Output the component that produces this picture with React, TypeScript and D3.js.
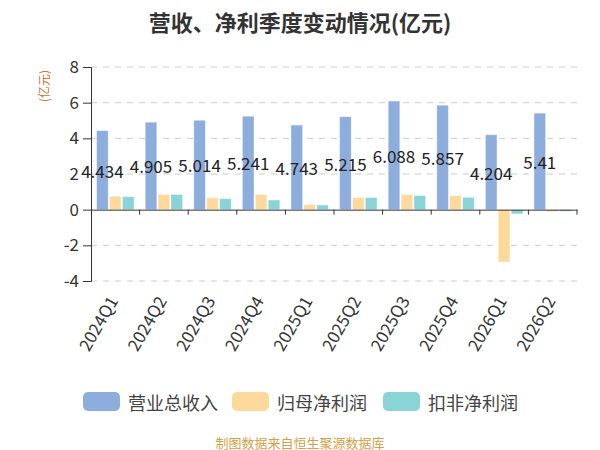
import { useRef, useEffect } from 'react';
import * as d3 from 'd3';

const quarters = ['2024Q1', '2024Q2', '2024Q3', '2024Q4', '2025Q1', '2025Q2', '2025Q3', '2025Q4', '2026Q1', '2026Q2'];
const revenue = [4.434, 4.905, 5.014, 5.241, 4.743, 5.215, 6.088, 5.857, 4.204, 5.41];
const netProfit = [0.75, 0.85, 0.66, 0.85, 0.28, 0.68, 0.85, 0.79, -2.93, -0.11];
const deductedProfit = [0.73, 0.85, 0.62, 0.54, 0.26, 0.68, 0.79, 0.69, -0.24, -0.09];
const seriesNames = ['营业总收入', '归母净利润', '扣非净利润'];
const yTicks = [-4, -2, 0, 2, 4, 6, 8];

const COLORS = ['#8daddc', '#fdd99b', '#88d4d7'];
const FONT = '"Noto Sans CJK SC", "Noto Sans", sans-serif';

export default function App() {
  const svgRef = useRef<SVGSVGElement>(null);

  useEffect(() => {
    if (!svgRef.current) return;
    const svg = d3.select(svgRef.current);
    svg.selectAll('*').remove();

    const left = 91;
    const right = 577;
    const top = 67;
    const bottom = 281;

    const x = d3.scaleBand<string>().domain(quarters).range([left, right]);
    const inner = d3.scaleBand<number>().domain([0, 1, 2]).range([-20, 20]).padding(0.1);
    const y = d3.scaleLinear().domain([-4, 8]).range([bottom, top]);

    // Title
    svg.append('text')
      .attr('x', 300)
      .attr('y', 21)
      .attr('text-anchor', 'middle')
      .attr('dominant-baseline', 'central')
      .attr('font-size', '22px')
      .attr('font-weight', '700')
      .attr('fill', '#333')
      .text('营收、净利季度变动情况(亿元)');

    // Y-axis unit
    svg.append('text')
      .attr('transform', `translate(43,86) rotate(-90)`)
      .attr('text-anchor', 'middle')
      .attr('dominant-baseline', 'central')
      .attr('font-size', '12px')
      .attr('fill', '#c8743a')
      .text('(亿元)');

    // Grid lines
    svg.append('g')
      .selectAll('line')
      .data(yTicks.filter((t) => t !== 0))
      .join('line')
      .attr('x1', left)
      .attr('x2', right)
      .attr('y1', (d) => y(d))
      .attr('y2', (d) => y(d))
      .attr('stroke', '#ccc')
      .attr('stroke-dasharray', '6,6');

    // Bars
    const all = [revenue, netProfit, deductedProfit];
    all.forEach((values, si) => {
      svg.append('g')
        .selectAll('rect')
        .data(values)
        .join('rect')
        .attr('x', (_, i) => x(quarters[i])! + x.bandwidth() / 2 + inner(si)!)
        .attr('width', inner.bandwidth())
        .attr('y', (d) => y(Math.max(0, d)))
        .attr('height', (d) => Math.abs(y(d) - y(0)))
        .attr('fill', COLORS[si])
        .attr('stroke', '#fff')
        .attr('stroke-opacity', 0.4)
        .attr('stroke-width', 1);
    });

    // Y axis
    const yAxis = svg.append('g')
      .attr('transform', `translate(${left},0)`)
      .call(d3.axisLeft(y).tickValues(yTicks).tickSize(8).tickPadding(4).tickFormat((d) => String(d)));
    yAxis.select('.domain').attr('stroke', '#333');
    yAxis.selectAll('.tick line').attr('stroke', '#333');
    yAxis.selectAll('.tick text')
      .attr('font-size', '17px')
      .attr('font-family', FONT)
      .attr('fill', '#333');

    // X axis at zero
    const xAxis = svg.append('g')
      .attr('transform', `translate(0,${y(0)})`)
      .call(d3.axisBottom(x).tickValues([]).tickSizeOuter(0));
    xAxis.select('.domain').attr('stroke', '#333');
    svg.append('g')
      .selectAll('line')
      .data(quarters)
      .join('line')
      .attr('x1', (d) => x(d)! + x.bandwidth())
      .attr('x2', (d) => x(d)! + x.bandwidth())
      .attr('y1', y(0))
      .attr('y2', y(0) + 5)
      .attr('stroke', '#333');

    // Category labels along bottom
    svg.append('g')
      .selectAll('text')
      .data(quarters)
      .join('text')
      .attr('transform', (d) => `translate(${x(d)! + x.bandwidth() / 2 - 3},${bottom + 16}) rotate(-60)`)
      .attr('text-anchor', 'end')
      .attr('dominant-baseline', 'central')
      .attr('font-size', '17px')
      .attr('font-family', FONT)
      .attr('fill', '#333')
      .text((d) => d);

    // Revenue value labels in bar middle
    svg.append('g')
      .selectAll('text')
      .data(revenue)
      .join('text')
      .attr('x', (_, i) => x(quarters[i])! + x.bandwidth() / 2 + inner(0)! + inner.bandwidth() / 2)
      .attr('y', (d) => y(d / 2))
      .attr('text-anchor', 'middle')
      .attr('dominant-baseline', 'central')
      .attr('font-size', '17px')
      .attr('font-family', FONT)
      .attr('fill', '#222')
      .text((d) => String(d));

    // Legend
    const legendX = [83, 232, 383];
    const legend = svg.append('g')
      .selectAll('g')
      .data(seriesNames)
      .join('g')
      .attr('transform', (_, i) => `translate(${legendX[i]},392)`);
    legend.append('rect')
      .attr('width', 37)
      .attr('height', 19)
      .attr('rx', 5)
      .attr('fill', (_, i) => COLORS[i]);
    legend.append('text')
      .attr('x', 45)
      .attr('y', 10)
      .attr('dominant-baseline', 'central')
      .attr('font-size', '18px')
      .attr('font-family', FONT)
      .attr('fill', '#444')
      .text((d) => d);

    // Footer
    svg.append('text')
      .attr('x', 300)
      .attr('y', 442)
      .attr('text-anchor', 'middle')
      .attr('dominant-baseline', 'central')
      .attr('font-size', '13px')
      .attr('fill', '#d4a04a')
      .text('制图数据来自恒生聚源数据库');
  }, []);

  return (
    <svg
      ref={svgRef}
      width={600}
      height={450}
      style={{ position: 'absolute', left: 0, top: 0, background: '#fff', fontFamily: FONT }}
    />
  );
}
